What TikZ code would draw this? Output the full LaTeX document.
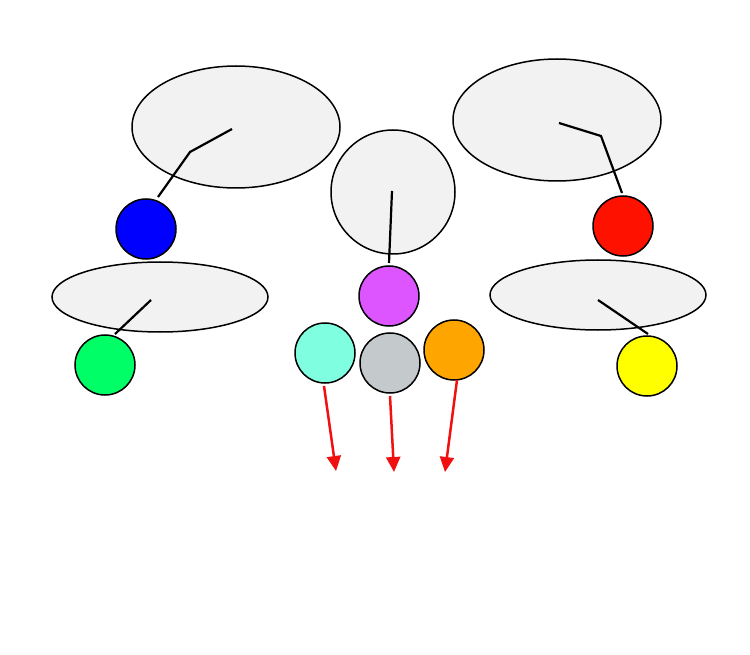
\documentclass[tikz,border=0pt]{standalone}
\usepackage{tikz}
\usetikzlibrary{shapes.geometric,arrows.meta,positioning,calc}

\definecolor{blobgray}{HTML}{F2F2F2}
\definecolor{ballmag}{HTML}{DD55FF}
\definecolor{ballaqua}{HTML}{7FFFE0}
\definecolor{ballgray}{HTML}{C4CACB}
\definecolor{ballgreen}{HTML}{00FF66}
\definecolor{ballblue}{HTML}{0000FF}
\definecolor{ballorange}{HTML}{FFA500}
\definecolor{ballred}{HTML}{FF1100}
\definecolor{ballyellow}{HTML}{FFFF00}
\definecolor{arrowred}{HTML}{F01010}

\tikzset{
    blob/.style={ellipse, draw=black, line width=1.5pt, fill=blobgray, inner sep=0pt},
    ball/.style={circle, draw=black, line width=1.5pt, minimum size=60pt, inner sep=0pt},
    stick/.style={line width=2.2pt, black},
    fall/.style={line width=2.5pt, arrowred, -{Triangle[length=15pt,width=14pt]}}
}

\begin{document}
\begin{tikzpicture}[x=1pt,y=-1pt]
            \useasboundingbox (0,0) rectangle (750,655);

            % grey blobs
            \node[blob, minimum width=208pt, minimum height=122pt] (blobTL) at (236,127) {};
            \node[blob, minimum width=208pt, minimum height=122pt] (blobTR) at (557,120) {};
            \node[blob, minimum width=124pt, minimum height=124pt] (blobC) at (393,192) {};
            \node[blob, minimum width=216pt, minimum height=70pt] (blobML) at (160,297) {};
            \node[blob, minimum width=216pt, minimum height=70pt] (blobMR) at (598,295) {};

            % coloured balls
            \node[ball, fill=ballblue] (blue) at (146,229) {};
            \node[ball, fill=ballgreen] (green) at (105,365) {};
            \node[ball, fill=ballmag] (mag) at (389,296) {};
            \node[ball, fill=ballaqua] (aqua) at (325,353) {};
            \node[ball, fill=ballgray] (grey) at (390,363) {};
            \node[ball, fill=ballorange] (orng) at (454,350) {};
            \node[ball, fill=ballred] (rd) at (623,226) {};
            \node[ball, fill=ballyellow] (yel) at (647,366) {};

            % sticks from blobs to balls
            \draw[stick] (232,129) -- (190,152) -- (158,197);
            \draw[stick] (151,300) -- (115,334);
            \draw[stick] (392,191) -- (389,263);
            \draw[stick] (559,123) -- (601,136) -- (622,193);
            \draw[stick] (598,300) -- (648,334);

            % falling arrows
            \coordinate (endA) at (336,471);
            \coordinate (endG) at (394,472);
            \coordinate (endO) at (445,472);
            \draw[fall] (324,386) -- (endA);
            \draw[fall] (390,396) -- (endG);
            \draw[fall] (457,380) -- (endO);
\end{tikzpicture}
\end{document}
